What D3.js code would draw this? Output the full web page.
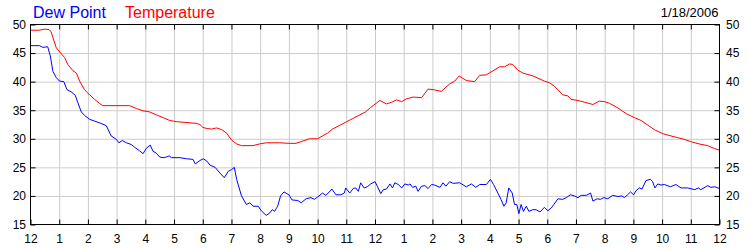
<!DOCTYPE html>
<html><head><meta charset="utf-8">
<script src="https://cdn.jsdelivr.net/npm/d3@7/dist/d3.min.js"></script>
<style>html,body{margin:0;padding:0;background:#fff;}svg{display:block;}</style>
</head><body><svg id="c" width="750" height="250"></svg>
<script>
const hourLabels = ["12","1","2","3","4","5","6","7","8","9","10","11","12","1","2","3","4","5","6","7","8","9","10","11","12"];
const yTicks = [15,20,25,30,35,40,45,50];
const dateLabel = "1/18/2006";
const seriesNames = ["Dew Point","Temperature"];

const tempHours = [0,0.3,0.5,0.65,0.72,0.78,0.9,1.07,1.19,1.3,1.48,1.6,1.71,1.88,2.06,2.23,2.4,2.52,3.45,3.69,3.92,4.15,4.38,4.62,4.85,5.08,5.31,5.55,5.78,5.9,6.0,6.14,6.31,6.48,6.66,6.83,7.0,7.18,7.35,7.75,7.98,8.21,8.68,9.02,9.25,9.48,9.71,10.0,10.17,10.35,10.52,10.75,10.98,11.21,11.44,11.67,11.83,11.96,12.17,12.4,12.58,12.75,12.93,13.1,13.33,13.62,13.85,14.03,14.31,14.6,14.78,14.93,15.18,15.47,15.65,15.88,16.11,16.34,16.51,16.69,16.8,16.98,17.15,17.5,17.9,18.08,18.25,18.54,18.72,18.83,19.07,19.3,19.59,19.82,19.99,20.17,20.46,20.75,21.04,21.27,21.5,21.73,22.02,22.31,22.54,22.77,23.0,23.29,23.59,23.82,24.0];
const tempValues = [49.0,49.0,49.2,49.1,48.7,47.7,45.9,44.9,44.2,43.0,41.9,41.5,40.1,38.6,37.7,36.9,36.2,35.8,35.8,35.3,34.9,34.7,34.2,33.7,33.2,33.0,32.9,32.8,32.7,32.5,32.0,31.8,31.7,31.9,31.6,31.0,29.8,29.1,28.8,28.8,29.1,29.3,29.3,29.2,29.2,29.6,30.0,30.0,30.5,31.0,31.7,32.3,32.9,33.5,34.1,34.7,35.4,35.9,36.7,36.1,36.4,36.8,36.5,37.0,37.3,37.2,38.7,38.6,38.3,39.6,40.1,41.0,40.2,40.0,41.1,41.2,41.9,42.6,42.6,43.1,43.0,42.0,41.5,41.0,40.1,39.8,39.2,37.7,37.5,36.9,36.7,36.4,36.0,36.6,36.5,36.2,35.4,34.4,33.7,33.2,32.4,31.6,30.9,30.5,30.2,29.9,29.5,29.1,28.8,28.3,28.0];

const dewHours = [0,0.31,0.43,0.6,0.69,0.78,0.9,1.01,1.16,1.27,1.42,1.56,1.65,1.77,1.88,2.06,2.23,2.4,2.64,2.81,2.99,3.08,3.2,3.34,3.51,3.63,3.8,3.92,4.03,4.17,4.27,4.38,4.5,4.62,4.73,4.83,4.91,5.2,5.43,5.66,5.74,5.9,6.02,6.14,6.25,6.43,6.6,6.75,6.89,7.0,7.1,7.18,7.35,7.52,7.64,7.75,7.93,8.04,8.21,8.33,8.42,8.5,8.61,8.71,8.83,9.0,9.11,9.31,9.43,9.6,9.77,9.89,10.0,10.17,10.29,10.5,10.64,10.81,10.93,10.98,11.12,11.24,11.33,11.42,11.5,11.62,11.73,11.85,12.0,12.08,12.2,12.29,12.4,12.52,12.61,12.69,12.81,12.93,13.04,13.16,13.22,13.31,13.42,13.5,13.62,13.74,13.85,13.97,14.08,14.26,14.37,14.47,14.6,14.72,14.95,15.18,15.36,15.51,15.65,15.88,16.02,16.13,16.28,16.39,16.49,16.57,16.66,16.78,16.86,16.94,17.01,17.09,17.17,17.27,17.36,17.5,17.61,17.75,17.9,18.02,18.14,18.23,18.37,18.54,18.66,18.81,18.95,19.07,19.18,19.36,19.51,19.59,19.74,19.85,19.97,20.11,20.28,20.46,20.6,20.69,20.8,20.9,21.01,21.09,21.21,21.3,21.44,21.59,21.67,21.75,21.85,21.96,22.08,22.29,22.48,22.66,22.89,23.14,23.26,23.35,23.59,23.7,23.84,24.0];
const dewValues = [46.3,46.3,46.0,46.1,44.5,41.8,40.7,40.1,40.0,38.6,38.2,37.6,36.3,34.7,34.1,33.4,33.1,32.8,32.3,30.5,29.9,29.3,29.7,29.3,29.0,28.5,27.9,27.4,28.3,28.9,27.8,27.5,26.8,26.7,26.8,27.0,26.7,26.7,26.5,26.4,25.6,26.2,26.5,26.1,25.4,25.0,24.0,23.2,24.3,24.6,25.0,22.9,20.0,18.5,18.8,18.2,18.2,17.4,16.6,17.0,17.6,17.3,18.2,20.0,20.7,20.2,19.3,19.2,18.8,19.5,19.7,19.4,19.8,20.5,20.1,21.2,20.2,20.2,20.5,21.4,20.5,21.3,21.4,20.8,22.3,21.4,21.6,22.1,22.5,21.7,20.4,21.1,21.2,22.1,21.4,22.3,22.0,21.4,22.1,21.9,22.1,21.5,21.7,20.8,21.7,21.8,21.3,22.0,21.9,21.5,22.3,21.7,22.5,22.2,22.3,21.6,22.1,21.5,22.0,22.0,22.9,22.0,20.5,19.4,18.2,18.8,21.4,20.5,18.5,18.5,16.9,18.5,17.3,18.2,17.3,17.6,17.6,17.2,18.0,17.4,17.9,18.5,19.5,19.4,19.7,20.2,20.0,19.7,20.1,20.1,20.5,19.1,19.5,19.4,19.7,19.5,20.1,19.9,20.0,19.7,20.2,20.7,20.2,20.9,21.4,21.2,22.7,22.9,22.5,21.4,22.1,21.9,22.0,21.6,22.0,21.4,21.4,21.1,21.4,21.1,21.8,21.5,21.6,21.3];

const svg = d3.select("#c");
const X0 = 30.5, X1 = 719.5, Y0 = 224.5, Y1 = 24.5;
const x = d3.scaleLinear().domain([0,24]).range([X0,X1]);
const y = d3.scaleLinear().domain([15,50]).range([Y0,Y1]);
const FONT = "'Liberation Sans', Arial, sans-serif";

// gridlines
svg.append("g").attr("transform",`translate(0,${Y0})`)
  .call(d3.axisBottom(x).tickValues(d3.range(1,24)).tickSize(-(Y0-Y1)).tickFormat(""))
  .call(g=>{g.select(".domain").remove();g.selectAll("line").attr("stroke","#cccccc");});
svg.append("g").attr("transform",`translate(${X0},0)`)
  .call(d3.axisLeft(y).tickValues(yTicks.slice(1,-1)).tickSize(-(X1-X0)).tickFormat(""))
  .call(g=>{g.select(".domain").remove();g.selectAll("line").attr("stroke","#cccccc");});

// lines
const line = d3.line().x(d=>x(d[0])).y(d=>y(d[1]));
svg.append("path").datum(tempHours.map((h,i)=>[h,tempValues[i]]))
  .attr("d",line).attr("fill","none").attr("stroke","#ff0000").attr("stroke-width",1);
svg.append("path").datum(dewHours.map((h,i)=>[h,dewValues[i]]))
  .attr("d",line).attr("fill","none").attr("stroke","#0000ff").attr("stroke-width",1);

// frame
svg.append("rect").attr("x",X0).attr("y",Y1).attr("width",X1-X0).attr("height",Y0-Y1)
  .attr("fill","none").attr("stroke","#000");

function style(g){
  g.attr("font-family",FONT).attr("font-size",12);
  g.select(".domain").remove();
  g.selectAll("line").attr("stroke","#000");
  g.selectAll("text").attr("fill","#000");
}
// axes
svg.append("g").attr("transform",`translate(0,${Y0})`)
  .call(d3.axisBottom(x).tickValues(d3.range(0,25)).tickFormat(i=>hourLabels[i]).tickSizeInner(-5).tickSizeOuter(0).tickPadding(10))
  .call(style);
svg.append("g").attr("transform",`translate(0,${Y1})`)
  .call(d3.axisTop(x).tickValues(d3.range(1,24)).tickFormat("").tickSizeInner(-5).tickSizeOuter(0))
  .call(style);
svg.append("g").attr("transform",`translate(${X0},0)`)
  .call(d3.axisLeft(y).tickValues(yTicks).tickSizeInner(-5).tickSizeOuter(0).tickPadding(4.5))
  .call(style);
svg.append("g").attr("transform",`translate(${X1},0)`)
  .call(d3.axisRight(y).tickValues(yTicks).tickSizeInner(-5).tickSizeOuter(0).tickPadding(6.5))
  .call(style);

// legend
svg.append("text").attr("x",33).attr("y",17.5).attr("font-family",FONT).attr("font-size",16)
  .attr("fill","#0000ff").text(seriesNames[0]);
svg.append("text").attr("x",125).attr("y",17.5).attr("font-family",FONT).attr("font-size",16)
  .attr("fill","#ff0000").text(seriesNames[1]);
svg.append("text").attr("x",718.5).attr("y",17).attr("text-anchor","end").attr("font-family",FONT).attr("font-size",13)
  .attr("fill","#000").text(dateLabel);
</script></body></html>
